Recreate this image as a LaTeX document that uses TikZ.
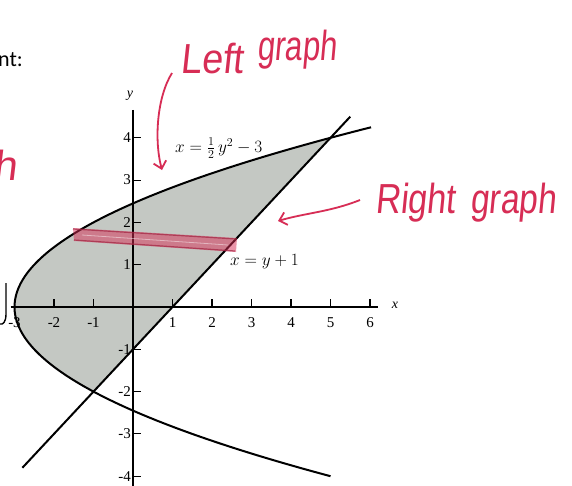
\documentclass[tikz,border=0pt]{standalone}
\usepackage{fontspec}
\setmainfont{Liberation Serif}
\newfontfamily\hand[FakeSlant=0.12]{Liberation Sans}
\newfontfamily\uisans{Carlito}
\usetikzlibrary{arrows.meta}
\definecolor{ink}{RGB}{215,45,85}
\definecolor{shadegray}{RGB}{196,200,195}
\tikzset{
  curve/.style={line width=2pt, black},
  axisline/.style={line width=1.3pt, black},
  tickline/.style={line width=1.1pt, black},
  ticklab/.style={font=\fontsize{15}{15}\selectfont, inner sep=0pt},
  eqlab/.style={font=\fontsize{17}{17}\selectfont, inner sep=0pt},
  handtext/.style={text=ink, inner sep=0pt, font=\hand\fontsize{42}{42}\selectfont},
  handarrow/.style={draw=ink, line width=1.8pt, -{Straight Barb[length=7pt,width=13pt,line width=1.8pt]}},
}
\begin{document}
\begin{tikzpicture}[x=1pt,y=-1pt]
\useasboundingbox (0,0) rectangle (572,485);
\fill[white] (0,0) rectangle (572,485);

\begin{scope}[xshift=133pt, yshift=-307pt, x=39.5pt, y=42.3pt]
  % shaded region between parabola and line
  \fill[shadegray] plot[domain=-2:4, samples=61, variable=\t] ({\t*\t/2-3},{\t}) -- cycle;
  % axes
  \draw[axisline] (-3.1,0) -- (6.2,0);
  \draw[axisline] (0,4.66) -- (0,-4.3);
  % x ticks
  \foreach \i in {-2,-1,1,2,3,4,5,6} {
    \draw[tickline] (\i,0) -- ++(0,0.19);
  }
  \foreach \i/\l in {-3/{-3},-2/{-2},-1/{-1},1/1,2/2,3/3,4/4,5/5,6/6} {
    \node[ticklab] (xl\i) at (\i,-0.37) {\l};
  }
  % y ticks
  \foreach \j in {-4,-3,-2,-1,1,2,3,4} {
    \draw[tickline] (0,\j) -- ++(0.2,0);
  }
  \foreach \j/\l in {-4/{-4},-3/{-3},-2/{-2},-1/{-1},1/1,2/2,3/3,4/4} {
    \node[ticklab, anchor=east] (yl\j) at (-0.05,\j) {\l};
  }
  % curves
  \draw[curve] plot[domain=-4:4.25, samples=90, smooth, variable=\t] ({\t*\t/2-3},{\t});
  \draw[curve] (-2.8,-3.8) -- (5.5,4.5);
\end{scope}

% axis names
\node[font=\itshape\fontsize{14}{14}\selectfont] (xname) at (395,305) {x};
\node[font=\itshape\fontsize{14}{14}\selectfont] (yname) at (130,96) {y};

% equation labels
\node[eqlab, anchor=west] (eq1) at (175,148) {$x=\frac{1}{2}\,y^{2}-3$};
\node[eqlab, anchor=west] (eq2) at (230,262) {$x=y+1$};

% red highlight band
\fill[ink, opacity=0.5] (73,228) -- (237,238) -- (236,252) -- (74,241) -- cycle;
\draw[ink!75!black, line width=1.2pt, opacity=0.7] (73,229) -- (236,239);
\draw[ink!75!black, line width=1.2pt, opacity=0.7] (74,240) -- (235,251);
\draw[white, line width=0.8pt, opacity=0.45] (82,235) -- (228,245);

% handwritten notes
\node[handtext, anchor=base west, xscale=0.9] (left) at (180,73) {Left};
\node[handtext, anchor=base west, xscale=0.74] (lgraph) at (257,60) {graph};
\node[handtext, anchor=base west, xscale=0.82] (right) at (375,213) {Right};
\node[handtext, anchor=base west, xscale=0.80] (rgraph) at (470,213) {graph};

\coordinate (la0) at (172,73);
\coordinate (la1) at (162,170);
\draw[handarrow] (la0) .. controls (157,97) and (154,140) .. (la1);
\coordinate (ra0) at (360,200);
\coordinate (ra1) at (278,221);
\draw[handarrow] (ra0) .. controls (330,212) and (305,213) .. (ra1);

% cut-off fragments at the left edge
\node[font=\uisans\fontsize{22}{22}\selectfont, anchor=base east, inner sep=0pt] (frag1) at (23,66) {nt:};
\node[handtext, anchor=base east] (frag2) at (17,180) {h};
\draw[line width=1.4pt] (6,283) -- (6,314) .. controls (6,322) and (3,325) .. (0,324);
\end{tikzpicture}
\end{document}
